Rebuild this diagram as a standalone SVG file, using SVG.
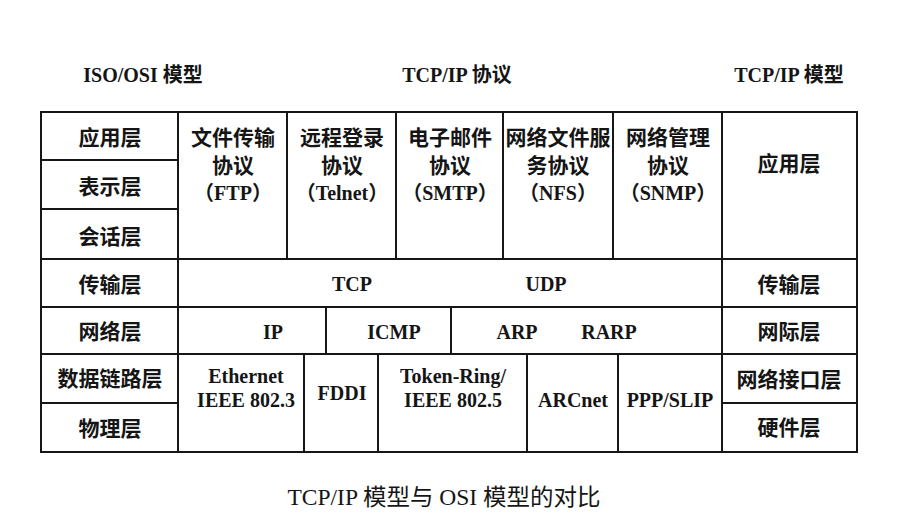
<svg xmlns="http://www.w3.org/2000/svg" width="906" height="514" viewBox="0 0 906 514">
<style>
  .grid line { stroke: #161616; stroke-width: 2; stroke-linecap: square; }
  text { fill: #151515; text-anchor: middle; font-family: "Liberation Serif", "Noto Sans CJK SC", serif; }
  .cn { font-size: 21px; font-weight: bold; }
  .en { font-size: 20px; font-weight: bold; }
  .hd { font-size: 20px; font-weight: bold; }
  .cap { font-size: 23px; font-weight: normal; }
</style>
<rect x="0" y="0" width="906" height="514" fill="#ffffff"/>

<g id="headers">
  <text class="hd" x="143" y="82">ISO/OSI 模型</text>
  <text class="hd" x="457" y="82">TCP/IP 协议</text>
  <text class="hd" x="789" y="82">TCP/IP 模型</text>
</g>

<g id="connectors" class="grid">
  <!-- outer frame -->
  <line x1="41" y1="112" x2="857" y2="112"/>
  <line x1="41" y1="452" x2="857" y2="452"/>
  <line x1="41" y1="112" x2="41" y2="452"/>
  <line x1="857" y1="112" x2="857" y2="452"/>
  <line x1="178" y1="112" x2="178" y2="452"/>
  <line x1="722" y1="112" x2="722" y2="452"/>
  <!-- left column rows -->
  <line x1="41" y1="160" x2="178" y2="160"/>
  <line x1="41" y1="209" x2="178" y2="209"/>
  <!-- full-width rows -->
  <line x1="41" y1="259" x2="857" y2="259"/>
  <line x1="41" y1="307" x2="857" y2="307"/>
  <line x1="41" y1="354" x2="857" y2="354"/>
  <!-- lower split of left/right columns -->
  <line x1="41" y1="403" x2="178" y2="403"/>
  <line x1="722" y1="403" x2="857" y2="403"/>
  <!-- application protocol dividers -->
  <line x1="287" y1="112" x2="287" y2="259"/>
  <line x1="396" y1="112" x2="396" y2="259"/>
  <line x1="503" y1="112" x2="503" y2="259"/>
  <line x1="613" y1="112" x2="613" y2="259"/>
  <!-- network row dividers -->
  <line x1="326" y1="307" x2="326" y2="354"/>
  <line x1="451" y1="307" x2="451" y2="354"/>
  <!-- data link row dividers -->
  <line x1="304" y1="354" x2="304" y2="452"/>
  <line x1="378" y1="354" x2="378" y2="452"/>
  <line x1="527" y1="354" x2="527" y2="452"/>
  <line x1="618" y1="354" x2="618" y2="452"/>
</g>

<g id="osi-application"><text class="cn" x="110" y="145">应用层</text></g>
<g id="osi-presentation"><text class="cn" x="110" y="194">表示层</text></g>
<g id="osi-session"><text class="cn" x="110" y="244">会话层</text></g>
<g id="osi-transport"><text class="cn" x="110" y="292">传输层</text></g>
<g id="osi-network"><text class="cn" x="110" y="339">网络层</text></g>
<g id="osi-datalink"><text class="cn" x="110" y="386">数据链路层</text></g>
<g id="osi-physical"><text class="cn" x="110" y="436">物理层</text></g>

<g id="proto-ftp">
  <text class="cn" x="233" y="145">文件传输</text>
  <text class="cn" x="233" y="173">协议</text>
  <text class="en" x="233" y="200">（FTP）</text>
</g>
<g id="proto-telnet">
  <text class="cn" x="342" y="145">远程登录</text>
  <text class="cn" x="342" y="173">协议</text>
  <text class="en" x="342" y="200">（Telnet）</text>
</g>
<g id="proto-smtp">
  <text class="cn" x="450" y="145">电子邮件</text>
  <text class="cn" x="450" y="173">协议</text>
  <text class="en" x="450" y="200">（SMTP）</text>
</g>
<g id="proto-nfs">
  <text class="cn" x="558" y="145">网络文件服</text>
  <text class="cn" x="558" y="173">务协议</text>
  <text class="en" x="558" y="200">（NFS）</text>
</g>
<g id="proto-snmp">
  <text class="cn" x="668" y="145">网络管理</text>
  <text class="cn" x="668" y="173">协议</text>
  <text class="en" x="668" y="200">（SNMP）</text>
</g>

<g id="proto-tcp"><text class="en" x="352" y="291">TCP</text></g>
<g id="proto-udp"><text class="en" x="546" y="291">UDP</text></g>

<g id="proto-ip"><text class="en" x="273" y="339">IP</text></g>
<g id="proto-icmp"><text class="en" x="394" y="339">ICMP</text></g>
<g id="proto-arp"><text class="en" x="517" y="339">ARP</text></g>
<g id="proto-rarp"><text class="en" x="609" y="339">RARP</text></g>

<g id="proto-ethernet">
  <text class="en" x="246" y="383">Ethernet</text>
  <text class="en" x="246" y="407">IEEE 802.3</text>
</g>
<g id="proto-fddi"><text class="en" x="342" y="400">FDDI</text></g>
<g id="proto-tokenring">
  <text class="en" x="453" y="383">Token-Ring/</text>
  <text class="en" x="453" y="407">IEEE 802.5</text>
</g>
<g id="proto-arcnet"><text class="en" x="573" y="407">ARCnet</text></g>
<g id="proto-pppslip"><text class="en" x="670" y="407">PPP/SLIP</text></g>

<g id="tcpip-application"><text class="cn" x="789" y="171">应用层</text></g>
<g id="tcpip-transport"><text class="cn" x="789" y="292">传输层</text></g>
<g id="tcpip-internet"><text class="cn" x="789" y="339">网际层</text></g>
<g id="tcpip-netif"><text class="cn" x="789" y="387">网络接口层</text></g>
<g id="tcpip-hardware"><text class="cn" x="789" y="435">硬件层</text></g>

<g id="caption">
  <text class="cap" x="444" y="505" textLength="313" lengthAdjust="spacingAndGlyphs">TCP/IP 模型与 OSI 模型的对比</text>
</g>
</svg>
